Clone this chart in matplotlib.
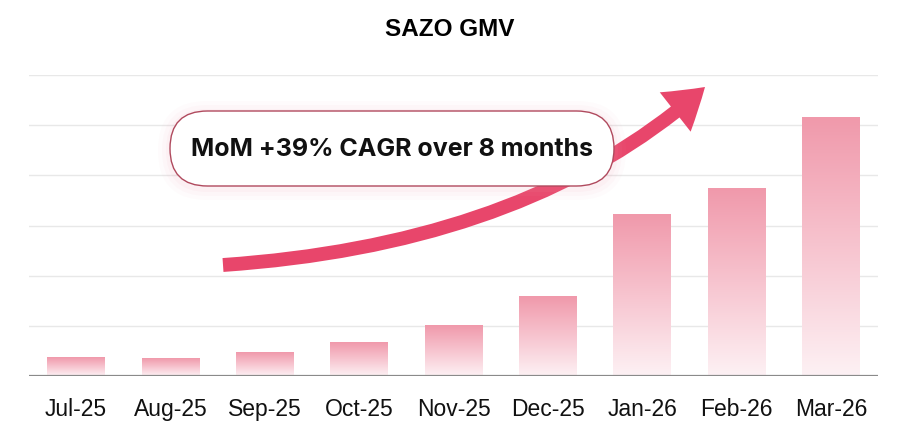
import matplotlib.pyplot as plt
import numpy as np
from matplotlib.path import Path
from matplotlib.patches import FancyArrowPatch, FancyBboxPatch
from matplotlib.colors import LinearSegmentedColormap

# datos (unidades de rejilla)
months = ['Jul-25', 'Aug-25', 'Sep-25', 'Oct-25', 'Nov-25', 'Dec-25', 'Jan-26', 'Feb-26', 'Mar-26']
gmv = [0.36, 0.34, 0.46, 0.66, 1.0, 1.58, 3.22, 3.74, 5.16]
title = 'SAZO GMV'
note = 'MoM +39% CAGR over 8 months'

W, H = 900, 431
fig = plt.figure(figsize=(9, 4.31), dpi=100)
ax = fig.add_axes([29 / W, 1 - 377 / H, 849 / W, 301 / H])

x = np.arange(len(months))
bw = 0.61
ax.set_xlim(-0.5, len(months) - 0.5)
ax.set_ylim(0, 6)

# rejilla
for yv in range(1, 7):
    ax.axhline(yv, color='#e8e8e8', lw=1, zorder=0)
ax.axhline(0, color='#8a8a8a', lw=1.6, zorder=3)

# barras con degradado
cmap = LinearSegmentedColormap.from_list('pk', ['#fdf1f4', '#f7c4cf', '#f099ab'])
grad = np.linspace(0, 1, 256).reshape(-1, 1)
bars = ax.bar(x, gmv, width=bw, color='none', zorder=2)
for b in bars:
    x0, w, h = b.get_x(), b.get_width(), b.get_height()
    ax.imshow(grad, cmap=cmap, origin='lower', aspect='auto',
              extent=[x0, x0 + w, 0, h], zorder=2)

for s in ax.spines.values():
    s.set_visible(False)
ax.set_yticks([])
ax.set_xticks(x)
ax.set_xticklabels(months, fontsize=16.5, family='Liberation Sans', color='#111111')
ax.tick_params(axis='x', length=0, pad=15)

fig.text(0.5, 1 - 29 / H, title, ha='center', va='center', fontsize=17.5,
         fontweight='bold', family='Liberation Sans')

# posiciones en pulgadas a partir de pixeles (origen arriba-izquierda)
def ip(px, py):
    return (px / 100, (H - py) / 100)

tr = fig.dpi_scale_trans

# flecha curva
verts = [ip(223, 266), ip(530, 245), ip(705, 88)]
path = Path(verts, [Path.MOVETO, Path.CURVE3, Path.CURVE3])
arrow = FancyArrowPatch(path=path, transform=tr,
                        arrowstyle='simple,tail_width=10,head_width=36,head_length=28',
                        color='#e8466b', lw=0, zorder=5)
fig.add_artist(arrow)

# caja con texto
bx0, by0, bx1, by1 = 170, 112, 614, 187
r = (by1 - by0) / 2 / 100
for k, a in [(12, 0.04), (8, 0.05), (4, 0.07)]:
    glow = FancyBboxPatch(ip(bx0 - k, by1 + k + 2), (bx1 - bx0 + 2 * k) / 100,
                          (by1 - by0 + 2 * k) / 100,
                          boxstyle=f'round,pad=0,rounding_size={r + k / 100}', transform=tr,
                          facecolor='#f4a3b5', edgecolor='none', alpha=a, zorder=6)
    fig.add_artist(glow)
box = FancyBboxPatch(ip(bx0, by1), (bx1 - bx0) / 100, (by1 - by0) / 100,
                     boxstyle=f'round,pad=0,rounding_size={r}', transform=tr,
                     facecolor='white', edgecolor='#b04a5e', lw=1.0, zorder=7)
fig.add_artist(box)
fig.text((bx0 + bx1) / 2 / W, 1 - 150 / H, note, ha='center', va='center',
         fontsize=18, fontweight='bold', family='Inter', color='#111111', zorder=8)

fig.savefig('out.png', dpi=100, facecolor='white')
